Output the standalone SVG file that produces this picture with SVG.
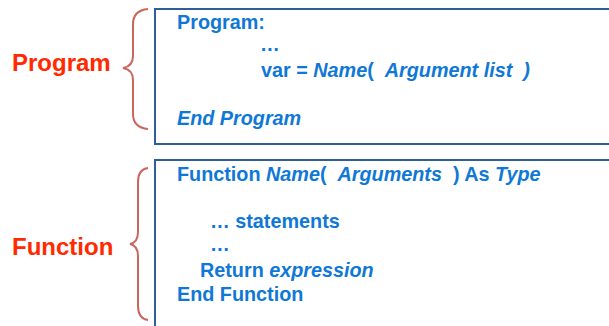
<svg xmlns="http://www.w3.org/2000/svg" width="609" height="326" viewBox="0 0 609 326">
<style>
.box{fill:none;stroke:#2F5F98;stroke-width:2}
.brace{fill:none;stroke:#CB665F;stroke-width:2}
.lbl{font-family:"Liberation Sans",Arial,sans-serif;font-weight:bold;font-size:24px;fill:#FF2A00}
.code{font-family:"Liberation Sans",Arial,sans-serif;font-weight:bold;font-size:19.8px;fill:#0F78D6}
.i{font-style:italic}
</style>
<rect width="609" height="326" fill="#ffffff"/>
<g id="program">
<rect class="box" x="155" y="9" width="470" height="135"/>
<text class="code" x="177" y="29">Program:</text>
<text class="code" x="260" y="51">…</text>
<text class="code" x="261" y="77" xml:space="preserve">var = <tspan class="i">Name</tspan>(  <tspan class="i">Argument list  )</tspan></text>
<text class="code i" x="177" y="125">End Program</text>
</g>
<g id="function">
<rect class="box" x="155" y="160" width="470" height="180"/>
<text class="code" x="177" y="181" xml:space="preserve">Function <tspan class="i">Name</tspan>(  <tspan class="i">Arguments</tspan>  ) As <tspan class="i">Type</tspan></text>
<text class="code" x="210" y="228">… statements</text>
<text class="code" x="210" y="251">…</text>
<text class="code" x="200" y="277">Return <tspan class="i">expression</tspan></text>
<text class="code" x="177" y="301">End Function</text>
</g>
<g id="program-label">
<path class="brace" d="M148,9 C138,10 133,15 133,24 L133,56 C133,64 129,67 123,68 C129,69 133,72 133,80 L133,114 C133,123 138,128 148,129"/>
<text class="lbl" x="12" y="71">Program</text>
</g>
<g id="function-label">
<path class="brace" d="M148,168 C141,169 138,174 138,182 L138,232 C138,240 135,243 130,244 C135,245 138,248 138,256 L138,306 C138,314 141,319 148,320"/>
<text class="lbl" x="12" y="255">Function</text>
</g>
<g id="connectors"></g>
</svg>
